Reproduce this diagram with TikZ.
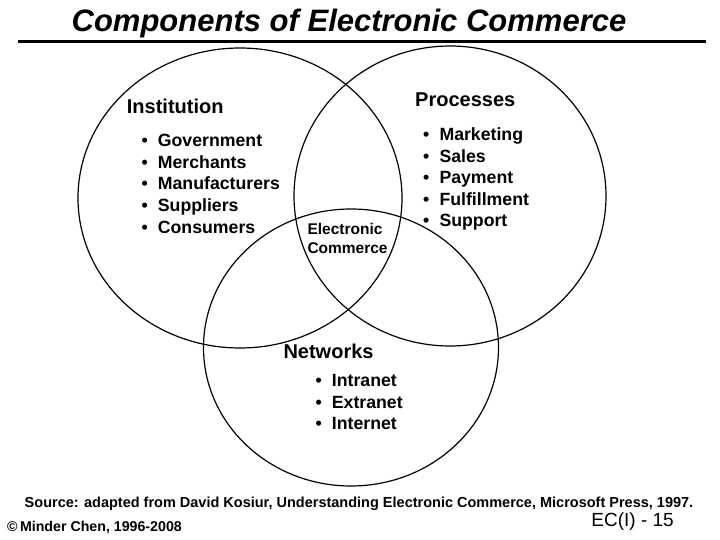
\documentclass[tikz,border=0pt]{standalone}
\usepackage{fontspec}
\setmainfont{Liberation Sans}
\usetikzlibrary{shapes.geometric}
\tikzset{
  venn/.style={ellipse, draw=black, line width=1.2pt, inner sep=0pt},
  head/.style={anchor=base west, inner sep=0pt, font=\fontsize{20}{24}\selectfont\bfseries},
  itemtxt/.style={anchor=base west, inner sep=0pt, font=\fontsize{17.7}{21}\selectfont\bfseries},
  ectxt/.style={anchor=base west, inner sep=0pt, font=\fontsize{15.5}{18}\selectfont\bfseries},
}
\begin{document}
\begin{tikzpicture}[x=1pt,y=-1pt]
\useasboundingbox (0,0) rectangle (720,540);
% title
\node[anchor=base, inner sep=0pt, font=\fontsize{31}{36}\selectfont\bfseries\itshape] (title) at (349,32) {Components of Electronic Commerce};
\coordinate (rl) at (18,42);
\coordinate (rr) at (706,42);
\draw[line width=3pt] (rl) -- (rr);
% circles
\node[venn, minimum width=324pt, minimum height=300pt] (inst) at (240,198) {};
\node[venn, minimum width=312pt, minimum height=300pt] (proc) at (450,196) {};
\node[venn, minimum width=295pt, minimum height=277pt] (netw) at (351,347.5) {};
% Institution
\node[head] (h1) at (126.7,113.3) {Institution};
\foreach \t [count=\i] in {Government,Merchants,Manufacturers,Suppliers,Consumers}{
  \node[itemtxt] (ib\i) at (141.5,{146.7+21.6*(\i-1)}) {•};
  \node[itemtxt] (it\i) at (157.7,{146.7+21.6*(\i-1)}) {\t};
}
% Processes
\node[head] (h2) at (415,106.7) {Processes};
\foreach \t [count=\i] in {Marketing,Sales,Payment,Fulfillment,Support}{
  \node[itemtxt] (pb\i) at (423,{141+21.4*(\i-1)}) {•};
  \node[itemtxt] (pt\i) at (439.3,{141+21.4*(\i-1)}) {\t};
}
% Electronic Commerce
\node[ectxt] (ec1) at (307.3,235) {Electronic};
\node[ectxt] (ec2) at (307.3,253.3) {Commerce};
% Networks
\node[head] (h3) at (283.3,358.3) {Networks};
\foreach \t [count=\i] in {Intranet,Extranet,Internet}{
  \node[itemtxt] (nb\i) at (315.5,{386.7+21.3*(\i-1)}) {•};
  \node[itemtxt] (nt\i) at (331.7,{386.7+21.3*(\i-1)}) {\t};
}
% footer
\node[anchor=base, inner sep=0pt, font=\fontsize{14.5}{17}\selectfont\bfseries] (src) at (359,507) {Source: adapted from David Kosiur, Understanding Electronic Commerce, Microsoft Press, 1997.};
\node[anchor=base west, inner sep=0pt, font=\fontsize{14.2}{17}\selectfont\bfseries] (copy) at (7,531) {©\,Minder Chen, 1996-2008};
\node[anchor=base east, inner sep=0pt, font=\fontsize{19}{22}\selectfont] (pg) at (674,526) {EC(I) - 15};
\end{tikzpicture}
\end{document}
